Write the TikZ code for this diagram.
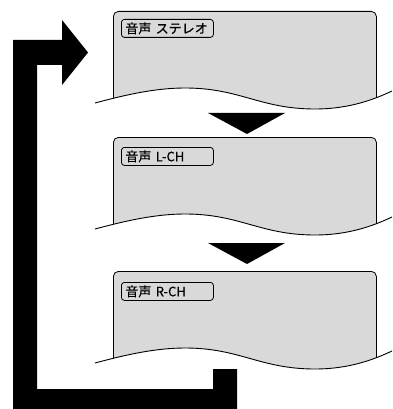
\documentclass[tikz,border=0pt]{standalone}
\usepackage{fontspec}
\newfontfamily\jpfont[FakeBold=0.4]{Noto Sans CJK JP}
\usetikzlibrary{positioning}

\definecolor{panelgray}{HTML}{D9D9D9}

% torn lower edge of a screen, relative to its north west corner
\newcommand{\tornedge}{(-18,92) .. controls (12,84) and (42,77) .. (72,77)
  .. controls (127,77) and (147,98) .. (202,98)
  .. controls (237,98) and (262,88) .. (279,80)}

\begin{document}
\begin{tikzpicture}[x=1pt, y=-1pt,
  screen/.style={draw, fill=panelgray, rounded corners=5pt, line width=0.8pt,
    minimum width=263pt, minimum height=101pt, inner sep=0pt, anchor=north west},
  tag/.style={draw, fill=panelgray, rounded corners=3pt, line width=0.8pt,
    text width=84pt, inner xsep=4pt, inner ysep=0pt, minimum height=18pt,
    align=left, font=\jpfont\fontsize{13}{14}\selectfont},
  tear/.style={line width=0.9pt},
  flow/.style={fill=black},
]
\useasboundingbox (0,0) rectangle (392,409);

% screens
\node[screen] (stereo) at (113,11) {};
\node[screen] (left) at (113,137) {};
\node[screen] (right) at (113,271) {};

\node[tag, below right=8pt and 8pt of stereo.north west] (tagS) {音声 ステレオ};
\node[tag, below right=10pt and 8pt of left.north west] (tagL) {音声 L-CH};
\node[tag, below right=11pt and 8pt of right.north west] (tagR) {音声 R-CH};

% torn edges
\begin{scope}[shift={(stereo.north west)}]
  \fill[white] \tornedge -- (279,104) -- (-18,104) -- cycle;
  \draw[tear] \tornedge;
\end{scope}
\begin{scope}[shift={(left.north west)}]
  \fill[white] \tornedge -- (279,104) -- (-18,104) -- cycle;
  \draw[tear] \tornedge;
\end{scope}
\begin{scope}[shift={(right.north west)}]
  \fill[white] \tornedge -- (279,104) -- (-18,104) -- cycle;
  \draw[tear] \tornedge;
\end{scope}

% down triangles
\fill[flow] (208,113) -- (285,113) -- (247,134) -- cycle;
\fill[flow] (208,243) -- (285,243) -- (247,264) -- cycle;

% return arrow
\coordinate (tip) at (88,52.5);
\fill[flow] (tip) -- (62,85) -- (62,65) -- (37,65) -- (37,389) -- (213,389)
  -- (213,369) -- (237,369) -- (237,409) -- (13,409) -- (13,40) -- (62,40)
  -- (62,20) -- cycle;
\end{tikzpicture}
\end{document}
